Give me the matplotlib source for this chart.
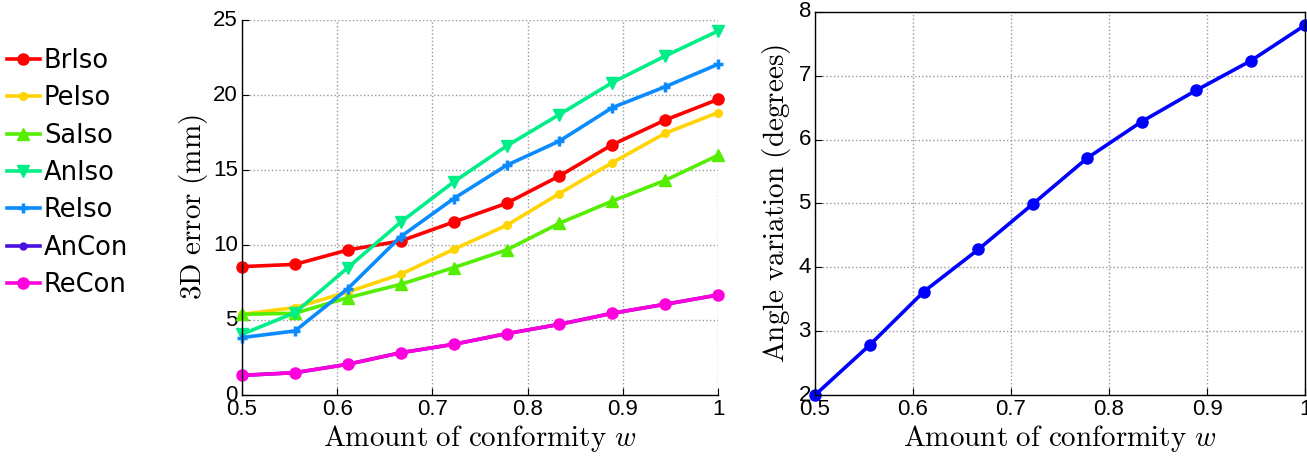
import matplotlib.pyplot as plt

plt.rcParams['mathtext.fontset'] = 'cm'
plt.rcParams['font.family'] = ['Liberation Sans', 'DejaVu Sans']

# conformity values
w = [0.5, 0.5556, 0.6111, 0.6667, 0.7222, 0.7778, 0.8333, 0.8889, 0.9444, 1.0]

# 3D error (mm) per method
br_iso = [8.56, 8.71, 9.67, 10.27, 11.53, 12.78, 14.60, 16.69, 18.33, 19.71]
pe_iso = [5.38, 5.83, 6.87, 8.05, 9.71, 11.31, 13.43, 15.49, 17.45, 18.83]
sa_iso = [5.38, 5.45, 6.49, 7.38, 8.49, 9.67, 11.45, 12.93, 14.31, 15.98]
an_iso = [4.05, 5.49, 8.49, 11.53, 14.20, 16.60, 18.70, 20.83, 22.60, 24.27]
re_iso = [3.83, 4.27, 7.09, 10.56, 13.09, 15.31, 16.93, 19.16, 20.55, 22.05]
an_con = [1.31, 1.49, 2.05, 2.82, 3.38, 4.09, 4.71, 5.45, 6.05, 6.67]
re_con = [1.31, 1.49, 2.05, 2.82, 3.38, 4.09, 4.71, 5.45, 6.05, 6.67]

# angle variation (degrees)
angle = [2.00, 2.78, 3.62, 4.28, 4.99, 5.71, 6.28, 6.77, 7.23, 7.79]

fig = plt.figure(figsize=(13.07, 4.59), dpi=100)
ax1 = fig.add_axes([0.1852, 0.1394, 0.3642, 0.817])
ax2 = fig.add_axes([0.6236, 0.1394, 0.3749, 0.835])

lw = 2.6
ax1.plot(w, br_iso, color='#ff0000', marker='o', ms=8, lw=lw, label='BrIso')
ax1.plot(w, pe_iso, color='#ffd400', marker='o', ms=5.5, lw=lw, label='PeIso')
ax1.plot(w, sa_iso, color='#55ee00', marker='^', ms=9, lw=lw, label='SaIso')
ax1.plot(w, an_iso, color='#00ee88', marker='v', ms=9, lw=lw, label='AnIso')
ax1.plot(w, re_iso, color='#0a8cff', marker='+', ms=7, mew=2.5, lw=lw, label='ReIso')
ax1.plot(w, an_con, color='#4a10e0', marker='o', ms=5, lw=lw, label='AnCon')
ax1.plot(w, re_con, color='#ff00dd', marker='o', ms=8, lw=lw, label='ReCon')

ax1.set_xlim(0.5, 1)
ax1.set_ylim(0, 25)
ax1.set_xticks([0.5, 0.6, 0.7, 0.8, 0.9, 1.0])
ax1.set_xticklabels(['0.5', '0.6', '0.7', '0.8', '0.9', '1'])
ax1.set_yticks([0, 5, 10, 15, 20, 25])
ax1.spines['top'].set_visible(False)
ax1.spines['right'].set_visible(False)
ax1.set_xlabel(r'$\mathrm{Amount\ of\ conformity}\ w$', fontsize=21, labelpad=2)
ax1.set_ylabel(r'$\mathrm{3D\ error\ (mm)}$', fontsize=21, labelpad=2)
ax1.legend(loc='upper left', bbox_to_anchor=(0.005, 1 - 48 / 459),
           bbox_transform=fig.transFigure, frameon=False,
           prop={'family': 'DejaVu Sans', 'size': 18.5},
           handlelength=1.3, handletextpad=0.15, labelspacing=0.44,
           borderaxespad=0, borderpad=0)

ax2.plot(w, angle, color='#0000ff', marker='o', ms=8, lw=lw)
ax2.set_xlim(0.5, 1)
ax2.set_ylim(2, 8)
ax2.set_xticks([0.5, 0.6, 0.7, 0.8, 0.9, 1.0])
ax2.set_xticklabels(['0.5', '0.6', '0.7', '0.8', '0.9', '1'])
ax2.set_xlabel(r'$\mathrm{Amount\ of\ conformity}\ w$', fontsize=21, labelpad=2)
ax2.set_ylabel(r'$\mathrm{Angle\ variation\ (degrees)}$', fontsize=21, labelpad=4)

for ax in (ax1, ax2):
    ax.grid(True, linestyle=':', color='#999999', lw=1)
    ax.tick_params(direction='in', labelsize=16, pad=3, length=5)
    for lbl in ax.get_yticklabels():
        lbl.set_verticalalignment('center')
    for sp in ax.spines.values():
        sp.set_linewidth(1)
    for m in ax.lines:
        m.set_clip_on(False)

fig.savefig('out.png', dpi=100)
